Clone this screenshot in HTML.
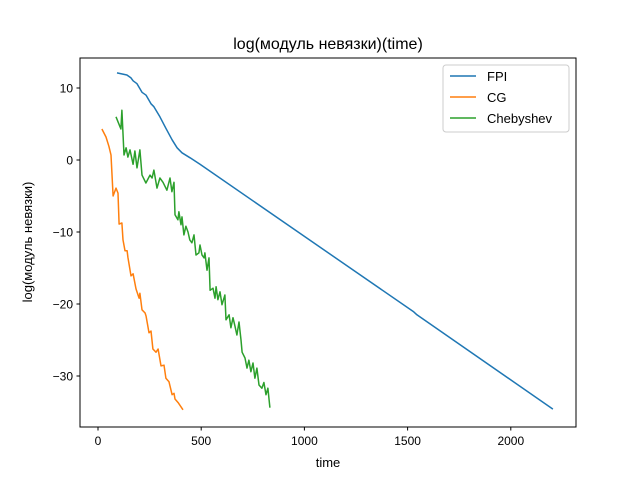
<!DOCTYPE html>
<html><head><meta charset="utf-8"><style>
body{margin:0;background:#fff}
svg{display:block;font-family:"Liberation Sans","DejaVu Sans",sans-serif}
</style></head><body>
<svg id="chart" width="640" height="480" xmlns="http://www.w3.org/2000/svg">
<rect width="640" height="480" fill="#fff"/>
<text x="328" y="49" text-anchor="middle" font-size="16">log(модуль невязки)(time)</text>
<text x="328" y="467" text-anchor="middle" font-size="13">time</text>
<text transform="translate(32,242) rotate(-90)" text-anchor="middle" font-size="13">log(модуль невязки)</text>
<g id="grid"></g>
<g id="series"></g>
<rect x="80" y="58" width="496" height="369" fill="none" stroke="#000" stroke-width="1"/>
<g>
<rect x="443" y="65" width="126" height="67" rx="3" fill="#fff" fill-opacity="0.8" stroke="#ccc"/>
<g><line x1="450" y1="76" x2="476" y2="76" stroke="#1f77b4" stroke-width="1.5"/><text x="487" y="81" font-size="13">FPI</text></g>
<g><line x1="450" y1="97" x2="476" y2="97" stroke="#ff7f0e" stroke-width="1.5"/><text x="487" y="102" font-size="13">CG</text></g>
<g><line x1="450" y1="118" x2="476" y2="118" stroke="#2ca02c" stroke-width="1.5"/><text x="487" y="123" font-size="13">Chebyshev</text></g>
</g>
</svg>
<script>
const xTicks=[0,500,1000,1500,2000];
const yTicks=[10,0,-10,-20,-30];
const fpiT=[92,140,160,170,189,213,233,257,271,300,329,359,383,407,446,494,1530,1545,2204];
const fpiV=[12.1,11.8,11.4,11.0,10.6,9.4,9.0,7.8,7.4,6.0,4.4,2.8,1.7,1.0,0.3,-0.6,-21.1,-21.5,-34.6];
const cgT=[19,39,53,63,73,87,97,102,116,121,131,141,145,160,170,184,199,203,213,228,233,247,257,266,281,291,305,320,329,344,359,368,373,388,412];
const cgV=[4.3,3.2,1.9,0.7,-5.0,-3.9,-4.6,-8.9,-8.75,-11.1,-12.6,-12.6,-13.5,-16.1,-15.8,-17.9,-19.2,-18.5,-20.8,-21.25,-21.7,-24.0,-23.75,-26.25,-26.7,-26.25,-28.6,-28.5,-30.3,-30.8,-32.6,-32.4,-33.2,-33.7,-34.7];
const chT=[87,111,116,126,136,145,155,170,179,189,203,213,232,252,262,271,286,300,315,334,349,358,368,373,387,392,402,407,416,426,436,445,455,465,475,489,494,504,514,518,528,538,543,557,567,572,581,591,601,615,620,635,644,654,664,673,683,693,698,712,722,731,741,751,760,770,780,794,804,814,823,833];
const chV=[6.0,4.3,6.9,0.7,1.7,0.4,1.4,-0.6,1.25,-1.1,1.4,-2.1,-3.2,-2.1,-2.5,-1.4,-3.9,-2.5,-3.1,-4.2,-2.5,-4.4,-3.1,-7.6,-8.3,-7.2,-9.0,-7.9,-10.4,-9.2,-10.0,-11.1,-11.5,-10.4,-13.2,-12.9,-11.8,-13.2,-13.6,-12.9,-15.3,-13.6,-18.1,-17.8,-19.2,-17.6,-19.4,-18.3,-20.1,-18.75,-22.2,-21.5,-23.3,-21.9,-23.1,-24.3,-22.5,-25,-26.7,-27.5,-28.9,-27.8,-29.4,-28.2,-30.3,-28.9,-31.25,-31.7,-30.9,-32.6,-31.7,-34.4];
const NS='http://www.w3.org/2000/svg';
const X=t=>98+t*0.2064;
const Y=v=>160-v*7.2;
const grid=document.getElementById('grid');
xTicks.forEach(t=>{
  const l=document.createElementNS(NS,'line');
  l.setAttribute('x1',X(t));l.setAttribute('x2',X(t));l.setAttribute('y1',427);l.setAttribute('y2',430.5);l.setAttribute('stroke','#000');
  
  
  grid.appendChild(l);
  const s=document.createElementNS(NS,'text');
  s.setAttribute('x',X(t));s.setAttribute('y',445);s.setAttribute('text-anchor','middle');s.setAttribute('font-size','12');
  s.textContent=t;
  
  
  grid.appendChild(s);
});
yTicks.forEach(v=>{
  const l=document.createElementNS(NS,'line');
  l.setAttribute('x1',76.5);l.setAttribute('x2',80);l.setAttribute('y1',Y(v));l.setAttribute('y2',Y(v));l.setAttribute('stroke','#000');
  
  
  grid.appendChild(l);
  const s=document.createElementNS(NS,'text');
  s.setAttribute('x',73);s.setAttribute('y',Y(v)+4.5);s.setAttribute('text-anchor','end');s.setAttribute('font-size','12');
  s.textContent=v<0?'\u2212'+(-v):v;
  
  
  grid.appendChild(s);
});
const ser=document.getElementById('series');
function draw(ts,vs,color,name){
  const p=document.createElementNS(NS,'polyline');
  p.setAttribute('points',ts.map((t,i)=>X(t).toFixed(1)+','+Y(vs[i]).toFixed(1)).join(' '));
  p.setAttribute('fill','none');p.setAttribute('stroke',color);p.setAttribute('stroke-width','1.5');p.setAttribute('stroke-linejoin','round');
  
  
  ser.appendChild(p);
}
draw(fpiT,fpiV,'#1f77b4','fpi-line');
draw(cgT,cgV,'#ff7f0e','cg-line');
draw(chT,chV,'#2ca02c','chebyshev-line');
</script>
</body></html>
